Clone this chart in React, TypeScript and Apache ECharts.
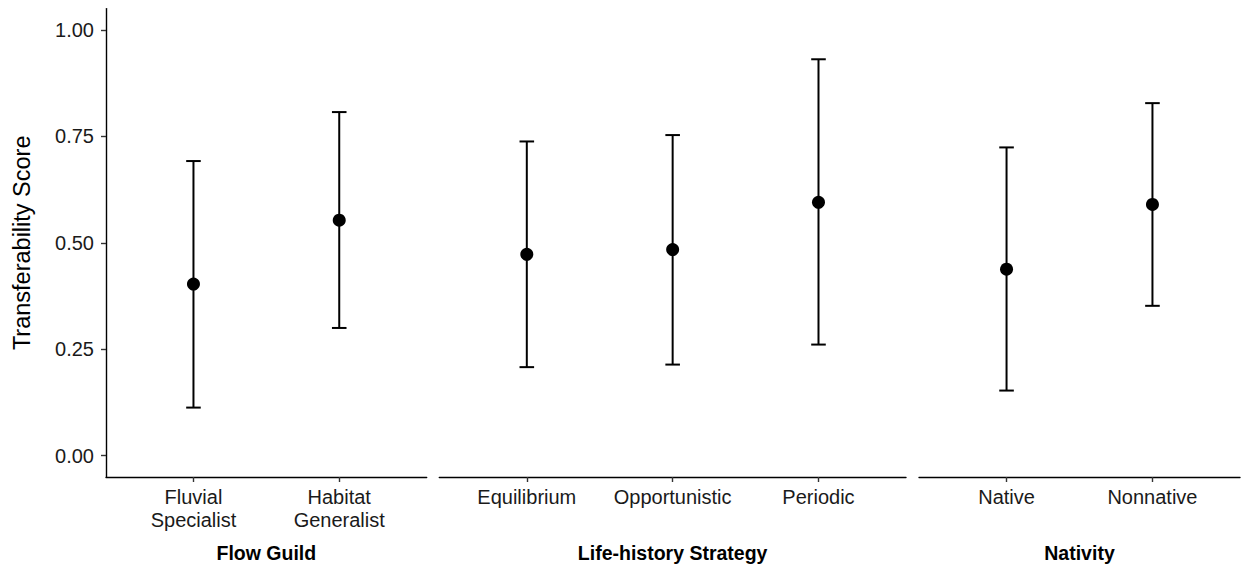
import React, { useEffect, useRef } from "react";
import * as echarts from "echarts";

// Facet titles (drawn under each panel)
const panelTitles = ["Flow Guild", "Life-history Strategy", "Nativity"];

// Flow guild panel
const flowCategories = ["Fluvial\nSpecialist", "Habitat\nGeneralist"];
const flowMean = [0.403, 0.553];
const flowLower = [0.113, 0.3];
const flowUpper = [0.692, 0.807];

// Life-history strategy panel
const lifeCategories = ["Equilibrium", "Opportunistic", "Periodic"];
const lifeMean = [0.473, 0.484, 0.595];
const lifeLower = [0.208, 0.214, 0.261];
const lifeUpper = [0.738, 0.753, 0.931];

// Nativity panel
const nativityCategories = ["Native", "Nonnative"];
const nativityMean = [0.438, 0.59];
const nativityLower = [0.153, 0.352];
const nativityUpper = [0.724, 0.828];

// Shared y axis
const yTicks = [0, 0.25, 0.5, 0.75, 1];
const yTitle = "Transferability Score";

const FONT = "'Liberation Sans', Arial, Helvetica, sans-serif";

type Panel = {
  categories: string[];
  mean: number[];
  lower: number[];
  upper: number[];
};

const panels: Panel[] = [
  { categories: flowCategories, mean: flowMean, lower: flowLower, upper: flowUpper },
  { categories: lifeCategories, mean: lifeMean, lower: lifeLower, upper: lifeUpper },
  { categories: nativityCategories, mean: nativityMean, lower: nativityLower, upper: nativityUpper },
];

// Panel layout in pixels (left, width)
const gridBoxes = [
  { left: 106, width: 320.7 },
  { left: 439.3, width: 466.7 },
  { left: 919, width: 321 },
];
const GRID_TOP = 8.6;
const GRID_HEIGHT = 469;

export default function App() {
  const ref = useRef<HTMLDivElement>(null);

  useEffect(() => {
    if (!ref.current) return;
    const chart = echarts.init(ref.current, undefined, { renderer: "svg" });

    const grids = gridBoxes.map((g) => ({
      left: g.left,
      width: g.width,
      top: GRID_TOP,
      height: GRID_HEIGHT,
      containLabel: false,
    }));

    const xAxes = panels.map((p, i) => {
      const positions = p.categories.map((_, k) => k + 1);
      return {
        type: "value",
        gridIndex: i,
        min: 0.4,
        max: p.categories.length + 0.6,
        splitLine: { show: false },
        axisLine: { show: true, onZero: false, lineStyle: { color: "#000", width: 1.4 } },
        axisTick: {
          show: true,
          length: 5,
          customValues: positions,
          lineStyle: { color: "#333", width: 1.4 },
        },
        axisLabel: {
          show: true,
          customValues: positions,
          margin: 8,
          fontFamily: FONT,
          fontSize: 20,
          lineHeight: 23,
          color: "#1a1a1a",
          formatter: (v: number) => p.categories[Math.round(v) - 1] ?? "",
        },
        name: panelTitles[i],
        nameLocation: "middle",
        nameGap: 65,
        nameTextStyle: {
          fontFamily: FONT,
          fontSize: 19.5,
          fontWeight: "bold",
          color: "#000",
          lineHeight: 22,
        },
      };
    });

    const yAxes = panels.map((_, i) => ({
      type: "value",
      gridIndex: i,
      min: -0.05,
      max: 1.05,
      show: i === 0,
      splitLine: { show: false },
      axisLine: { show: true, lineStyle: { color: "#000", width: 1.4 } },
      axisTick: {
        show: true,
        length: 5,
        customValues: yTicks,
        lineStyle: { color: "#333", width: 1.4 },
      },
      axisLabel: {
        show: true,
        customValues: yTicks,
        margin: 12,
        fontFamily: FONT,
        fontSize: 20,
        color: "#1a1a1a",
        formatter: (v: number) => v.toFixed(2),
      },
      name: i === 0 ? yTitle : "",
      nameLocation: "middle",
      nameGap: 72,
      nameTextStyle: { fontFamily: FONT, fontSize: 23.5, color: "#000" },
    }));

    const series: any[] = [];
    panels.forEach((p, i) => {
      series.push({
        type: "custom",
        xAxisIndex: i,
        yAxisIndex: i,
        clip: false,
        encode: { x: 0, y: [1, 2] },
        data: p.categories.map((_, k) => [k + 1, p.lower[k], p.upper[k]]),
        renderItem: (params: any, api: any) => {
          const x = api.value(0);
          const top = api.coord([x, api.value(2)]);
          const bot = api.coord([x, api.value(1)]);
          const half = api.size([0.1, 0])[0] / 2;
          const style = { stroke: "#000", lineWidth: 2 };
          return {
            type: "group",
            children: [
              { type: "line", shape: { x1: top[0], y1: top[1], x2: bot[0], y2: bot[1] }, style },
              { type: "line", shape: { x1: top[0] - half, y1: top[1], x2: top[0] + half, y2: top[1] }, style },
              { type: "line", shape: { x1: bot[0] - half, y1: bot[1], x2: bot[0] + half, y2: bot[1] }, style },
            ],
          };
        },
        z: 2,
      });
      series.push({
        type: "scatter",
        xAxisIndex: i,
        yAxisIndex: i,
        symbol: "circle",
        symbolSize: 13,
        itemStyle: { color: "#000", opacity: 1 },
        data: p.categories.map((_, k) => [k + 1, p.mean[k]]),
        z: 3,
      });
    });

    chart.setOption({
      animation: false,
      backgroundColor: "#fff",
      grid: grids,
      xAxis: xAxes,
      yAxis: yAxes,
      series,
    });

    return () => chart.dispose();
  }, []);

  return (
    <div
      ref={ref}
      style={{ position: "fixed", left: 0, top: 0, width: 1241, height: 569, background: "#fff" }}
    />
  );
}
